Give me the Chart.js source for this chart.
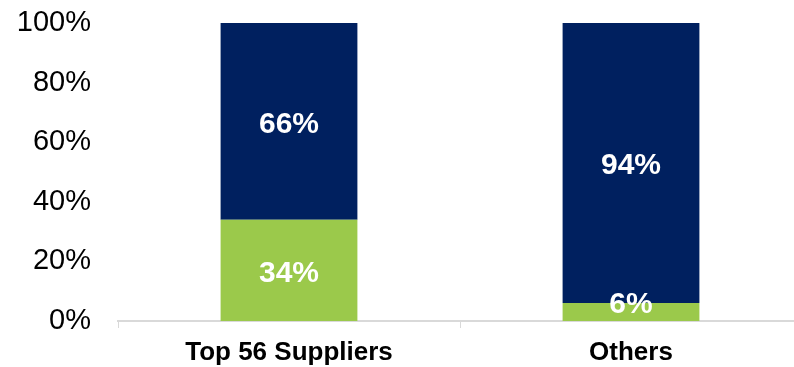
<!DOCTYPE html>
<html>
<head>
<meta charset="utf-8">
<script src="https://cdn.jsdelivr.net/npm/chart.js@4/dist/chart.umd.min.js"></script>
<style>
html,body{margin:0;padding:0;background:#fff;overflow:hidden;}
#wrap{width:802px;height:367px;}
</style>
</head>
<body>
<div id="wrap"><canvas id="c" width="802" height="367"></canvas></div>
<script>
const categories = ["Top 56 Suppliers", "Others"];
const greenValues = [34, 6];
const navyValues = [66, 94];
const yTicks = [0, 20, 40, 60, 80, 100];

const labelPlugin = {
  id: 'segLabels',
  afterDatasetsDraw(chart) {
    const ctx = chart.ctx;
    const base = chart.scales.y.getPixelForValue(0);
    ctx.save();
    ctx.fillStyle = '#ffffff';
    ctx.font = 'bold 30px "Liberation Sans", Arial, sans-serif';
    ctx.textAlign = 'center';
    ctx.textBaseline = 'middle';
    chart.data.datasets.forEach((ds, di) => {
      const meta = chart.getDatasetMeta(di);
      meta.data.forEach((bar, i) => {
        const top = bar.y, bottom = bar.base;
        let y = (top + bottom) / 2 + 3;
        y = Math.min(y, base - 16);
        ctx.fillText(ds.data[i] + '%', bar.x, y);
      });
    });
    ctx.restore();
  }
};

new Chart(document.getElementById('c'), {
  type: 'bar',
  data: {
    labels: categories,
    datasets: [
      { data: greenValues, backgroundColor: '#9BC94B', barPercentage: 0.8, categoryPercentage: 0.5 },
      { data: navyValues, backgroundColor: '#00205F', barPercentage: 0.8, categoryPercentage: 0.5 }
    ]
  },
  options: {
    responsive: false,
    animation: false,
    layout: { padding: { top: 23, right: 0, left: 0, bottom: 0 } },
    plugins: { legend: { display: false }, tooltip: { enabled: false } },
    scales: {
      x: {
        stacked: true,
        offset: true,
        grid: { display: true, drawOnChartArea: false, drawTicks: true, tickLength: 7, color: '#d9d9d9', offset: true },
        border: { display: true, color: '#d9d9d9', width: 2 },
        ticks: { color: '#000', padding: 9, font: { family: '"Liberation Sans", Arial, sans-serif', size: 26, weight: 'bold' } },
        afterFit(s) { s.height = 46; }
      },
      y: {
        stacked: true,
        min: 0, max: 100,
        afterBuildTicks(s) { s.ticks = yTicks.map(v => ({ value: v })); },
        grid: { display: false, drawTicks: false },
        border: { display: false },
        ticks: { color: '#000', padding: 27, callback: v => v + '%', font: { family: '"Liberation Sans", Arial, sans-serif', size: 29 } },
        afterFit(s) { s.width = 118; s.paddingTop = 0; s.paddingBottom = 0; }
      }
    }
  },
  plugins: [labelPlugin]
});
</script>
</body>
</html>
